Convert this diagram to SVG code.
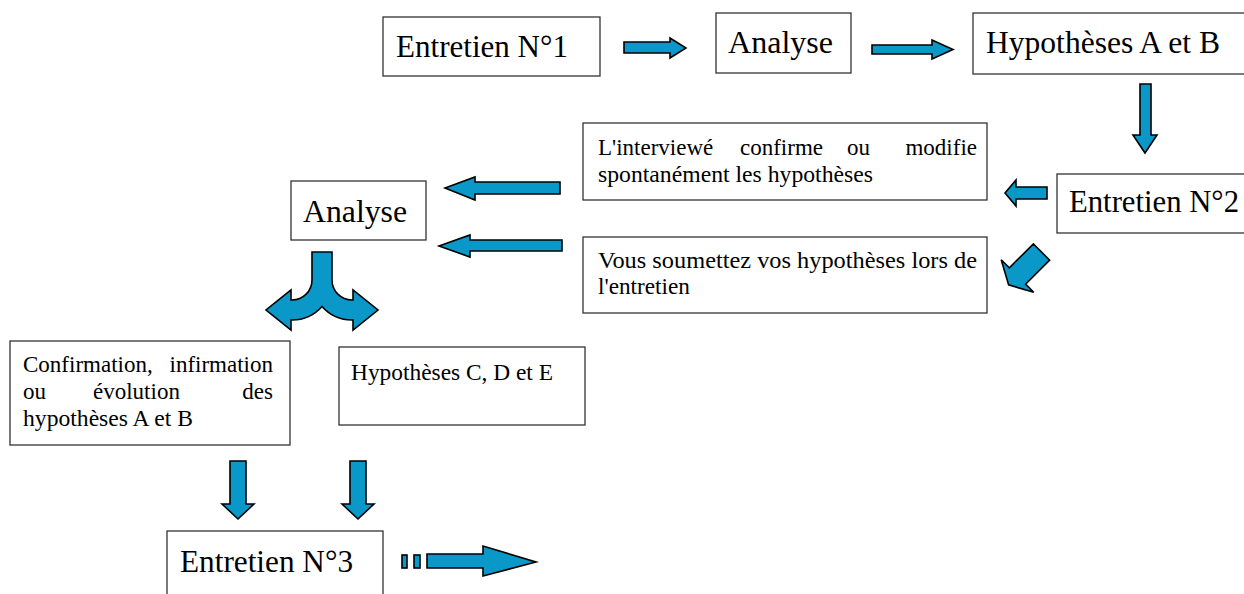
<svg xmlns="http://www.w3.org/2000/svg" width="1244" height="594" viewBox="0 0 1244 594">
<style>
.box{fill:#fff;stroke:#333;stroke-width:1.3}
.big{font-family:"Liberation Serif","Times New Roman",serif;font-size:32px;fill:#000}
.sm{font-family:"Liberation Serif","Times New Roman",serif;font-size:23px;fill:#000}
.arr{fill:#0a98c8;stroke:#000;stroke-width:1.6;stroke-linejoin:miter}
</style>
<rect width="1244" height="594" fill="#fff"/>

<g id="n-entretien1">
<rect class="box" x="383" y="17" width="217" height="59"/>
<text class="big" x="396" y="57" textLength="172" lengthAdjust="spacingAndGlyphs">Entretien N°1</text>
</g>
<g id="n-analyse1">
<rect class="box" x="716" y="13" width="135" height="60"/>
<text class="big" x="728" y="53" textLength="105" lengthAdjust="spacingAndGlyphs">Analyse</text>
</g>
<g id="n-hypAB">
<rect class="box" x="973" y="13" width="290" height="61"/>
<text class="big" x="986" y="53" textLength="234" lengthAdjust="spacingAndGlyphs">Hypothèses A et B</text>
</g>
<g id="n-entretien2">
<rect class="box" x="1057" y="174" width="210" height="59"/>
<text class="big" x="1069" y="212" textLength="170" lengthAdjust="spacingAndGlyphs">Entretien N°2</text>
</g>
<g id="n-interviewe">
<rect class="box" x="583" y="123" width="404" height="77"/>
<text class="sm" y="155"><tspan x="598">L'interviewé</tspan><tspan x="740">confirme</tspan><tspan x="847">ou</tspan><tspan x="977" text-anchor="end">modifie</tspan></text>
<text class="sm" x="598" y="182" textLength="275" lengthAdjust="spacingAndGlyphs">spontanément les hypothèses</text>
</g>
<g id="n-vous">
<rect class="box" x="583" y="237" width="404" height="76"/>
<text class="sm" x="598" y="268" textLength="379" lengthAdjust="spacingAndGlyphs">Vous soumettez vos hypothèses lors de</text>
<text class="sm" x="598" y="294" textLength="92" lengthAdjust="spacingAndGlyphs">l'entretien</text>
</g>
<g id="n-analyse2">
<rect class="box" x="291" y="181" width="135" height="59"/>
<text class="big" x="303" y="222" textLength="104" lengthAdjust="spacingAndGlyphs">Analyse</text>
</g>
<g id="n-confirmation">
<rect class="box" x="10" y="341" width="280" height="104"/>
<text class="sm" y="372"><tspan x="23">Confirmation,</tspan><tspan x="273" text-anchor="end">infirmation</tspan></text>
<text class="sm" y="399"><tspan x="23">ou</tspan><tspan x="93">évolution</tspan><tspan x="273" text-anchor="end">des</tspan></text>
<text class="sm" x="23" y="426" textLength="170" lengthAdjust="spacingAndGlyphs">hypothèses A et B</text>
</g>
<g id="n-hypCDE">
<rect class="box" x="339" y="347" width="246" height="78"/>
<text class="sm" x="351" y="380" textLength="202" lengthAdjust="spacingAndGlyphs">Hypothèses C, D et E</text>
</g>
<g id="n-entretien3">
<rect class="box" x="167" y="531" width="216" height="80"/>
<text class="big" x="180" y="572" textLength="173" lengthAdjust="spacingAndGlyphs">Entretien N°3</text>
</g>

<g id="connectors">
<polygon class="arr" points="624,42 670,42 670,38 686,48 670,58 670,53 624,53"/>
<polygon class="arr" points="872,45 932,45 932,40 953,49.5 932,59 932,54 872,54"/>
<polygon class="arr" points="1140,84 1151,84 1151,135 1157,135 1145,153 1133,135 1140,135"/>
<polygon class="arr" points="1047,187 1016,187 1016,180 1005,193 1016,206 1016,199 1047,199"/>
<polygon class="arr" transform="translate(1041.5,252) rotate(135)" points="0,-11.5 34,-11.5 34,-23 46.5,0 34,23 34,11.5 0,11.5"/>
<polygon class="arr" points="560,182 475,182 475,177 445,188 475,200 475,194 560,194"/>
<polygon class="arr" points="562,240 470,240 470,235 439,246 470,257 470,251 562,251"/>
<path class="arr" d="M312,252 L332,252 L332,280 A20,20 0 0 0 352,300 L353,300 L353,290 L378,310 L353,330 L353,320 L352,320 A40,40 0 0 1 322,306.5 A40,40 0 0 1 292,320 L291,320 L291,330 L266,310 L291,290 L291,300 L292,300 A20,20 0 0 0 312,280 Z"/>
<polygon class="arr" points="230,461 246,461 246,504 254,504 238,519 222,504 230,504"/>
<polygon class="arr" points="350,461 366,461 366,504 374,504 358,519 342,504 350,504"/>
<rect class="arr" x="402" y="555" width="5" height="13"/>
<rect class="arr" x="414" y="555" width="6" height="13"/>
<polygon class="arr" points="427,554 483,554 483,546 536,562 483,576 483,568 427,568"/>
</g>
</svg>
